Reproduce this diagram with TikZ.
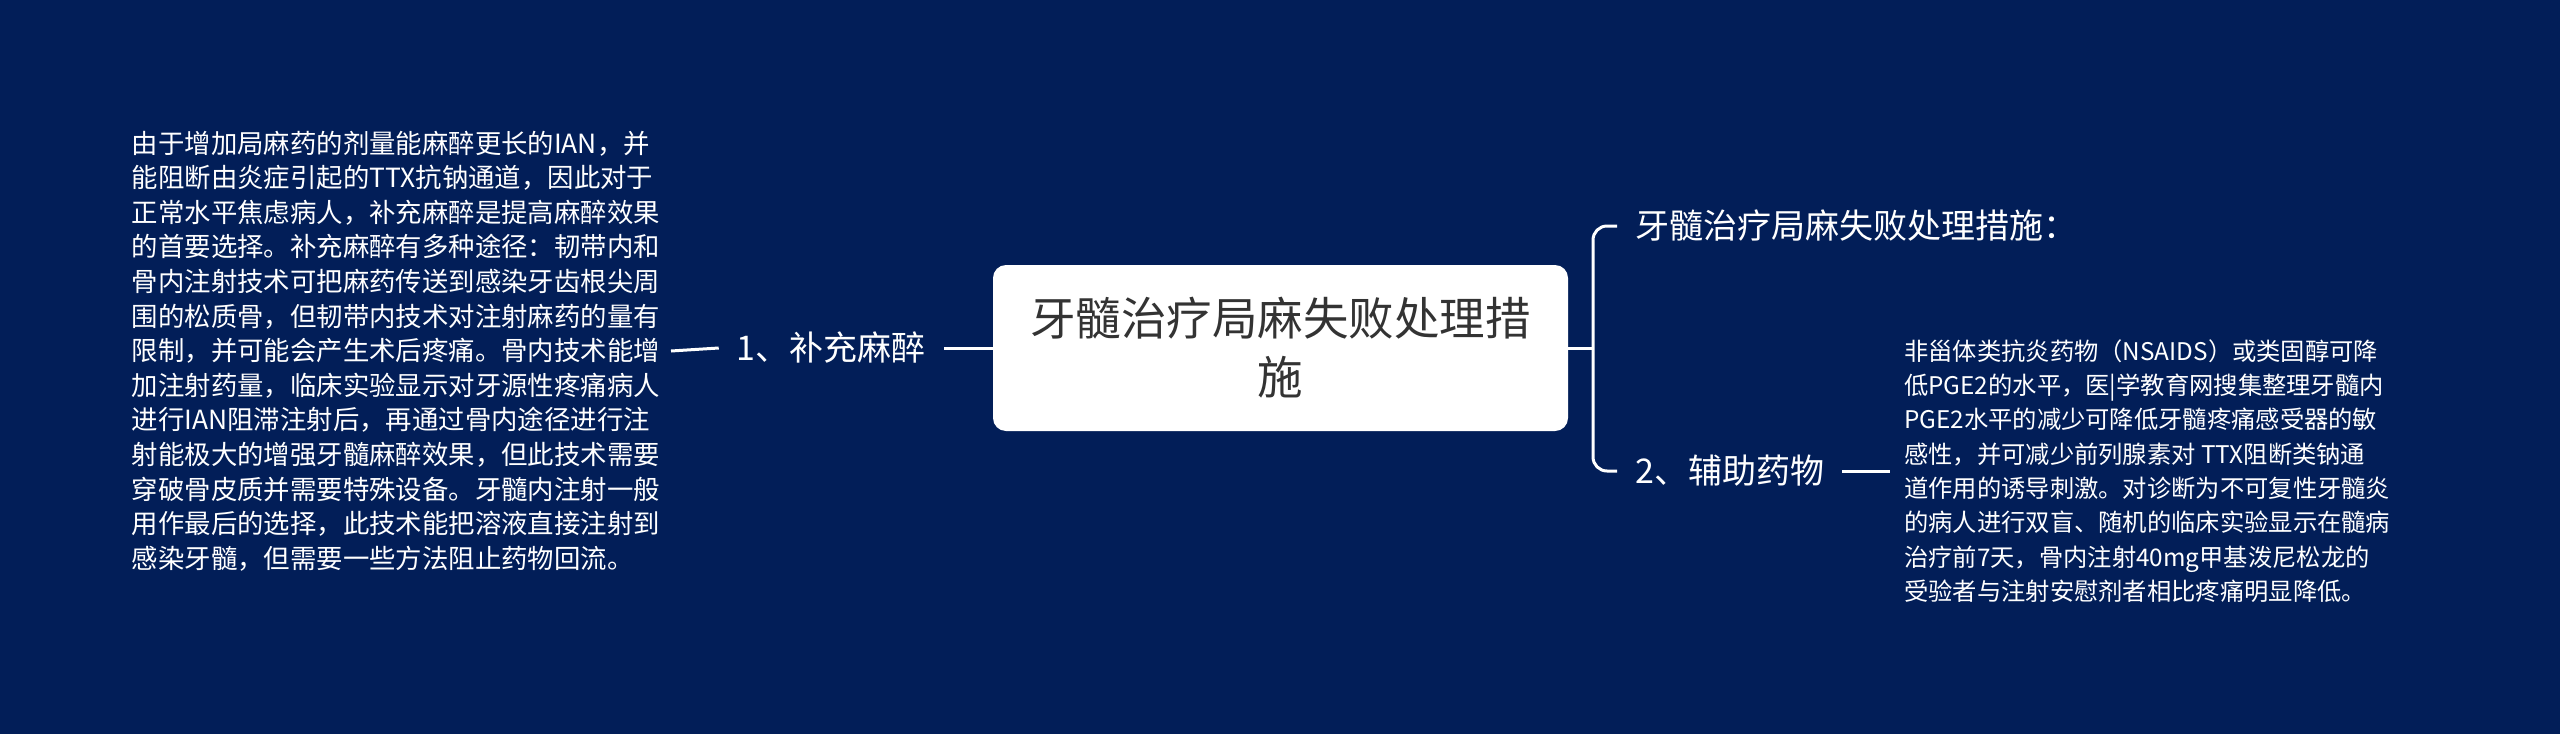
\documentclass[tikz,border=0pt]{standalone}
\usepackage{fontspec}
\setmainfont{Noto Sans CJK SC}
\definecolor{bgnavy}{RGB}{2,30,88}
\definecolor{boxtext}{RGB}{51,51,51}
\begin{document}
\begin{tikzpicture}[x=1pt,y=-1pt,
  conn/.style={draw=white,line width=3pt},
  lbl/.style={text=white,inner ysep=0pt,inner xsep=18pt,font={\fontsize{34}{40}\selectfont}},
  body/.style={text=white,inner ysep=0pt,align=left}]
\fill[bgnavy] (0,0) rectangle (2560,734);
\useasboundingbox (0,0) rectangle (2560,734);
\node[fill=white,rounded corners=13pt,minimum width=575pt,minimum height=166pt,inner sep=0pt,
  text=boxtext,align=center,font={\fontsize{45.5}{59}\selectfont}] (root) at (1280.5,348)
  {牙髓治疗局麻失败处理措\\施};
% left branch
\node[lbl,anchor=east] (l1) at (944,348) {1、补充麻醉};
\node[body,anchor=east,inner xsep=11pt,font={\fontsize{26.4}{34.6}\selectfont}] (t1) at (671,351) {由于增加局麻药的剂量能麻醉更长的IAN，并\\
能阻断由炎症引起的TTX抗钠通道，因此对于\\
正常水平焦虑病人，补充麻醉是提高麻醉效果\\
的首要选择。补充麻醉有多种途径：韧带内和\\
骨内注射技术可把麻药传送到感染牙齿根尖周\\
围的松质骨，但韧带内技术对注射麻药的量有\\
限制，并可能会产生术后疼痛。骨内技术能增\\
加注射药量，临床实验显示对牙源性疼痛病人\\
进行IAN阻滞注射后，再通过骨内途径进行注\\
射能极大的增强牙髓麻醉效果，但此技术需要\\
穿破骨皮质并需要特殊设备。牙髓内注射一般\\
用作最后的选择，此技术能把溶液直接注射到\\
感染牙髓，但需要一些方法阻止药物回流。};
\draw[conn] (root.west) -- (l1.east);
\draw[conn] (l1.west) -- (t1.east);
% right branch
\node[lbl,anchor=west] (r0) at (1617,226) {牙髓治疗局麻失败处理措施：};
\node[lbl,anchor=west] (r2) at (1617,471) {2、辅助药物};
\node[body,anchor=west,inner xsep=14pt,font={\fontsize{24.3}{34.3}\selectfont}] (t2) at (1890,471) {非甾体类抗炎药物（NSAIDS）或类固醇可降\\
低PGE2的水平，医|学教育网搜集整理牙髓内\\
PGE2水平的减少可降低牙髓疼痛感受器的敏\\
感性，并可减少前列腺素对 TTX阻断类钠通\\
道作用的诱导刺激。对诊断为不可复性牙髓炎\\
的病人进行双盲、随机的临床实验显示在髓病\\
治疗前7天，骨内注射40mg甲基泼尼松龙的\\
受验者与注射安慰剂者相比疼痛明显降低。};
\coordinate (j) at (1593,348);
\draw[conn] (root.east) -- (j);
\draw[conn,rounded corners=14pt] (r0.west) -| (j) |- (r2.west);
\draw[conn] (r2.east) -- (t2.west);
\end{tikzpicture}
\end{document}
